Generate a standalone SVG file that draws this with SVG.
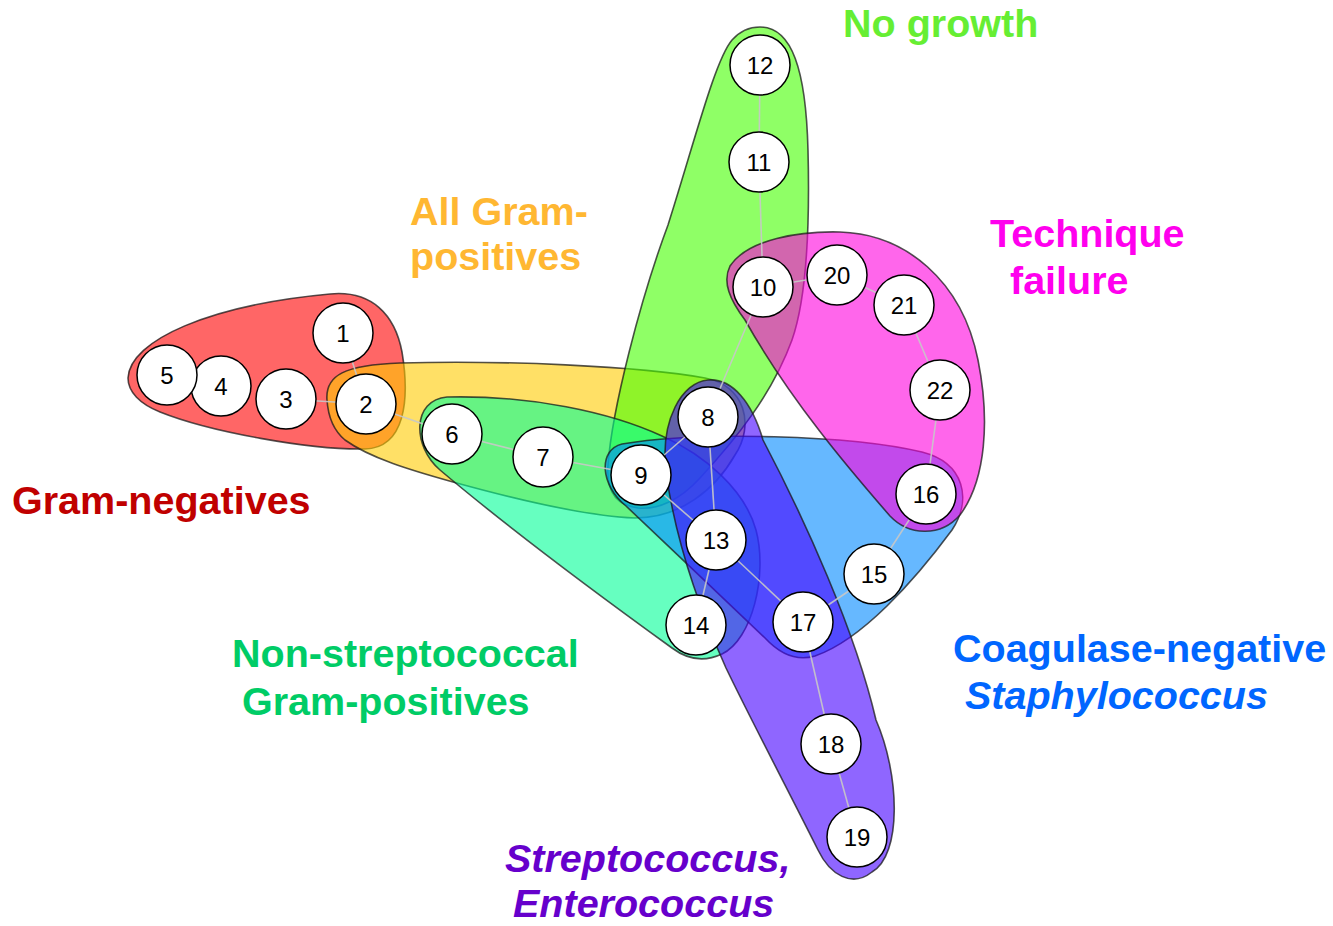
<svg xmlns="http://www.w3.org/2000/svg" width="1333" height="926" viewBox="0 0 1333 926">
<style>
.blob{fill-opacity:0.6;stroke:#1a1a1a;stroke-opacity:0.75;stroke-width:1.6}
.edge{stroke:#c8c8c8;stroke-width:1.6;stroke-opacity:0.9;fill:none}
.node circle{fill:#fff;stroke:#000;stroke-width:1.5}
.node text{font-family:"Liberation Sans",Arial,sans-serif;font-size:24px;fill:#000;text-anchor:middle}
.lbl{font-family:"Liberation Sans",Arial,sans-serif;font-size:39.5px;font-weight:bold}
.it{font-style:italic}
</style>
<rect width="1333" height="926" fill="#fff"/>
<g id="groups">
<path id="g-gramneg" class="blob" fill="#ff0000" d="M128,378 C130,340 210,305 330,294 C372,290 395,315 402,352 C410,400 405,448 365,449 C310,450 210,432 160,412 C140,404 128,392 128,378 Z"/>
<path id="g-allgrampos" class="blob" fill="#ffcc00" d="M327,400 C325,375 345,365 400,363 C500,360 640,366 705,378 C745,385 755,425 735,455 C715,490 680,518 635,518 C580,516 500,495 453,482 C410,470 370,458 345,440 C333,430 328,415 327,400 Z"/>
<path id="g-nogrowth" class="blob" fill="#44ff00" d="M760,27 C792,27 806,70 808,150 C810,230 806,300 792,340 C772,395 735,440 700,478 C680,500 658,510 638,508 C615,505 606,490 608,465 C612,410 640,300 668,225 C695,140 715,60 732,40 C740,31 750,27 760,27 Z"/>
<path id="g-nonstrep" class="blob" fill="#00ff96" d="M447,397 C530,395 610,412 662,436 C705,455 745,490 756,530 C768,575 752,640 722,654 C705,662 688,660 672,648 C600,596 505,525 440,470 C412,446 412,400 447,397 Z"/>
<path id="g-cons" class="blob" fill="#0088ff" d="M622,444 C700,431 850,435 922,452 C965,463 972,500 952,530 C915,580 862,640 815,656 C795,662 778,652 765,638 C722,597 662,540 626,506 C600,485 598,450 622,444 Z"/>
<path id="g-technique" class="blob" fill="#ff00dd" d="M730,266 C748,239 800,231 840,232 C905,234 962,280 978,360 C990,420 986,480 960,515 C940,538 908,535 890,516 C850,470 790,400 745,320 C730,300 722,282 730,266 Z"/>
<path id="g-strep" class="blob" fill="#4400ff" d="M708,380 C732,378 752,402 763,440 C805,520 855,630 876,720 C900,775 902,855 872,872 C852,888 830,875 818,850 C788,790 750,718 726,668 C700,610 676,545 666,472 C660,420 682,382 708,380 Z"/>
</g>
<g id="connectors">
<line class="edge" x1="343" y1="333" x2="366" y2="404"/>
<line class="edge" x1="286" y1="399" x2="366" y2="404"/>
<line class="edge" x1="366" y1="404" x2="452" y2="434"/>
<line class="edge" x1="452" y1="434" x2="543" y2="457"/>
<line class="edge" x1="543" y1="457" x2="641" y2="475"/>
<line class="edge" x1="641" y1="475" x2="708" y2="417"/>
<line class="edge" x1="708" y1="417" x2="763" y2="287"/>
<line class="edge" x1="763" y1="287" x2="759" y2="162"/>
<line class="edge" x1="759" y1="162" x2="760" y2="65"/>
<line class="edge" x1="763" y1="287" x2="837" y2="275"/>
<line class="edge" x1="837" y1="275" x2="904" y2="305"/>
<line class="edge" x1="904" y1="305" x2="940" y2="390"/>
<line class="edge" x1="940" y1="390" x2="926" y2="494"/>
<line class="edge" x1="926" y1="494" x2="874" y2="574"/>
<line class="edge" x1="874" y1="574" x2="803" y2="622"/>
<line class="edge" x1="708" y1="417" x2="716" y2="540"/>
<line class="edge" x1="641" y1="475" x2="716" y2="540"/>
<line class="edge" x1="716" y1="540" x2="803" y2="622"/>
<line class="edge" x1="716" y1="540" x2="696" y2="625"/>
<line class="edge" x1="803" y1="622" x2="831" y2="744"/>
<line class="edge" x1="831" y1="744" x2="857" y2="837"/>
</g>
<g id="n1" class="node"><circle cx="343" cy="333" r="30"/><text x="343" y="342">1</text></g>
<g id="n2" class="node"><circle cx="366" cy="404" r="30"/><text x="366" y="413">2</text></g>
<g id="n3" class="node"><circle cx="286" cy="399" r="30"/><text x="286" y="408">3</text></g>
<g id="n4" class="node"><circle cx="221" cy="386" r="30"/><text x="221" y="395">4</text></g>
<g id="n5" class="node"><circle cx="167" cy="375" r="30"/><text x="167" y="384">5</text></g>
<g id="n6" class="node"><circle cx="452" cy="434" r="30"/><text x="452" y="443">6</text></g>
<g id="n7" class="node"><circle cx="543" cy="457" r="30"/><text x="543" y="466">7</text></g>
<g id="n8" class="node"><circle cx="708" cy="417" r="30"/><text x="708" y="426">8</text></g>
<g id="n9" class="node"><circle cx="641" cy="475" r="30"/><text x="641" y="484">9</text></g>
<g id="n10" class="node"><circle cx="763" cy="287" r="30"/><text x="763" y="296">10</text></g>
<g id="n11" class="node"><circle cx="759" cy="162" r="30"/><text x="759" y="171">11</text></g>
<g id="n12" class="node"><circle cx="760" cy="65" r="30"/><text x="760" y="74">12</text></g>
<g id="n13" class="node"><circle cx="716" cy="540" r="30"/><text x="716" y="549">13</text></g>
<g id="n14" class="node"><circle cx="696" cy="625" r="30"/><text x="696" y="634">14</text></g>
<g id="n15" class="node"><circle cx="874" cy="574" r="30"/><text x="874" y="583">15</text></g>
<g id="n16" class="node"><circle cx="926" cy="494" r="30"/><text x="926" y="503">16</text></g>
<g id="n17" class="node"><circle cx="803" cy="622" r="30"/><text x="803" y="631">17</text></g>
<g id="n18" class="node"><circle cx="831" cy="744" r="30"/><text x="831" y="753">18</text></g>
<g id="n19" class="node"><circle cx="857" cy="837" r="30"/><text x="857" y="846">19</text></g>
<g id="n20" class="node"><circle cx="837" cy="275" r="30"/><text x="837" y="284">20</text></g>
<g id="n21" class="node"><circle cx="904" cy="305" r="30"/><text x="904" y="314">21</text></g>
<g id="n22" class="node"><circle cx="940" cy="390" r="30"/><text x="940" y="399">22</text></g>
<g id="labels">
<text class="lbl" x="12" y="514" fill="#c00000">Gram-negatives</text>
<text class="lbl" x="410" y="225" fill="#ffb732">All Gram-</text>
<text class="lbl" x="410" y="270" fill="#ffb732">positives</text>
<text class="lbl" x="843" y="37" fill="#66ee33">No growth</text>
<text class="lbl" x="990" y="247" fill="#ff00ee">Technique</text>
<text class="lbl" x="1010" y="294" fill="#ff00ee">failure</text>
<text class="lbl" x="232" y="667" fill="#00cc66">Non-streptococcal</text>
<text class="lbl" x="242" y="715" fill="#00cc66">Gram-positives</text>
<text class="lbl" x="953" y="662" fill="#0066ff">Coagulase-negative</text>
<text class="lbl it" x="965" y="709" fill="#0066ff">Staphylococcus</text>
<text class="lbl it" x="505" y="872" fill="#6600cc">Streptococcus,</text>
<text class="lbl it" x="513" y="917" fill="#6600cc">Enterococcus</text>
</g>
</svg>
